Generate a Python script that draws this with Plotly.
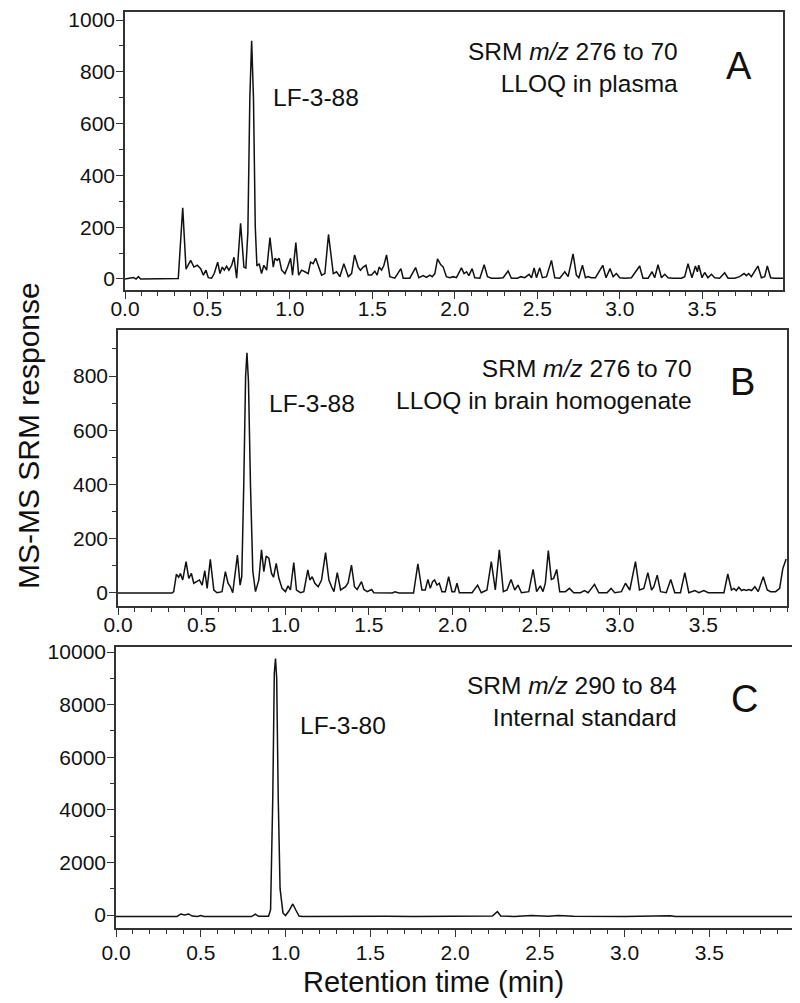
import plotly.graph_objects as go

# ---------------- data ----------------
# Panel A: SRM m/z 276 -> 70, LLOQ in plasma
a_time = [0.000, 0.050, 0.067, 0.081, 0.095, 0.323, 0.350, 0.370, 0.398, 0.418, 0.438, 0.459,
          0.475, 0.491, 0.505, 0.525, 0.541, 0.562, 0.576, 0.590, 0.602, 0.616, 0.630, 0.647,
          0.661, 0.677, 0.701, 0.721, 0.733, 0.745, 0.757, 0.768, 0.779, 0.790, 0.800, 0.814,
          0.828, 0.842, 0.859, 0.879, 0.899, 0.909, 0.923, 0.935, 0.950, 0.970, 0.986, 1.004,
          1.016, 1.036, 1.053, 1.071, 1.091, 1.111, 1.125, 1.141, 1.156, 1.176, 1.192, 1.212,
          1.234, 1.263, 1.283, 1.303, 1.327, 1.354, 1.374, 1.392, 1.414, 1.428, 1.444, 1.461,
          1.475, 1.495, 1.515, 1.529, 1.541, 1.556, 1.570, 1.586, 1.606, 1.636, 1.673, 1.687,
          1.727, 1.762, 1.782, 1.808, 1.828, 1.848, 1.863, 1.879, 1.895, 1.915, 1.929, 1.949,
          1.970, 1.990, 2.010, 2.040, 2.056, 2.071, 2.085, 2.105, 2.121, 2.152, 2.178, 2.198,
          2.222, 2.263, 2.293, 2.323, 2.343, 2.380, 2.400, 2.424, 2.450, 2.465, 2.481, 2.495,
          2.515, 2.531, 2.556, 2.586, 2.606, 2.636, 2.667, 2.687, 2.717, 2.737, 2.752, 2.774,
          2.792, 2.808, 2.828, 2.853, 2.897, 2.917, 2.941, 2.960, 2.980, 3.000, 3.030, 3.071,
          3.121, 3.141, 3.172, 3.196, 3.212, 3.232, 3.253, 3.273, 3.293, 3.323, 3.374, 3.394,
          3.414, 3.438, 3.459, 3.471, 3.479, 3.499, 3.515, 3.535, 3.556, 3.576, 3.606, 3.636,
          3.657, 3.697, 3.727, 3.754, 3.768, 3.782, 3.798, 3.838, 3.859, 3.879, 3.895, 3.915,
          3.939, 3.990]
a_resp = [0, 6, 0, 9, 0, 2, 275, 38, 72, 46, 53, 40,
          15, 34, 5, 3, 21, 65, 21, 46, 34, 49, 34, 53,
          84, 3, 215, 46, 42, 180, 700, 920, 700, 200, 50, 59,
          21, 53, 34, 160, 46, 80, 72, 80, 34, 21, 46, 80,
          15, 141, 15, 34, 28, 21, 65, 59, 80, 40, 15, 21,
          172, 21, 28, 9, 59, 9, 21, 93, 46, 34, 46, 53,
          15, 15, 30, 15, 46, 34, 53, 93, 9, 3, 40, 3,
          3, 44, 5, 13, 6, 15, 9, 21, 78, 55, 47, 9,
          5, 9, 5, 43, 21, 28, 13, 40, 5, 3, 55, 9,
          3, 3, 5, 31, 3, 3, 9, 5, 18, 5, 43, 5,
          43, 5, 9, 72, 5, 3, 28, 9, 97, 15, 5, 53,
          5, 9, 5, 5, 53, 5, 40, 9, 21, 5, 3, 5,
          50, 3, 3, 28, 5, 55, 5, 18, 5, 3, 3, 9,
          59, 5, 50, 28, 53, 5, 25, 5, 18, 5, 3, 24,
          3, 3, 9, 21, 13, 21, 9, 50, 5, 9, 50, 5,
          3, 3]

# Panel B: SRM m/z 276 -> 70, LLOQ in brain homogenate
b_time = [0.000, 0.323, 0.333, 0.349, 0.363, 0.373, 0.387, 0.407, 0.423, 0.439, 0.453, 0.473,
          0.487, 0.503, 0.519, 0.533, 0.552, 0.573, 0.592, 0.622, 0.642, 0.658, 0.672, 0.686,
          0.714, 0.730, 0.740, 0.752, 0.763, 0.771, 0.780, 0.792, 0.806, 0.822, 0.842, 0.858,
          0.872, 0.886, 0.902, 0.918, 0.930, 0.946, 0.962, 0.981, 1.001, 1.017, 1.031, 1.051,
          1.067, 1.091, 1.111, 1.135, 1.147, 1.161, 1.177, 1.197, 1.217, 1.241, 1.261, 1.277,
          1.291, 1.311, 1.331, 1.361, 1.376, 1.396, 1.414, 1.430, 1.440, 1.456, 1.470, 1.490,
          1.516, 1.530, 1.640, 1.656, 1.680, 1.767, 1.793, 1.817, 1.837, 1.853, 1.867, 1.881,
          1.893, 1.907, 1.921, 1.937, 1.957, 1.977, 1.997, 2.013, 2.027, 2.041, 2.117, 2.150,
          2.172, 2.206, 2.232, 2.256, 2.280, 2.304, 2.326, 2.350, 2.372, 2.392, 2.412, 2.456,
          2.482, 2.503, 2.525, 2.541, 2.555, 2.573, 2.591, 2.605, 2.623, 2.641, 2.675, 2.699,
          2.725, 2.765, 2.789, 2.811, 2.849, 2.875, 2.924, 2.948, 2.970, 3.010, 3.034, 3.060,
          3.094, 3.118, 3.144, 3.168, 3.190, 3.204, 3.224, 3.244, 3.278, 3.305, 3.329, 3.363,
          3.389, 3.413, 3.449, 3.473, 3.503, 3.529, 3.623, 3.646, 3.668, 3.682, 3.697, 3.712,
          3.728, 3.742, 3.756, 3.772, 3.788, 3.808, 3.828, 3.858, 3.882, 3.902, 3.932, 3.956,
          3.975, 3.995]
b_resp = [0, 0, 5, 69, 58, 72, 48, 116, 54, 72, 36, 45,
          48, 29, 82, 17, 124, 11, 1, 5, 79, 36, 23, 1,
          140, 29, 60, 400, 800, 886, 780, 400, 80, 5, 48, 159,
          79, 136, 128, 72, 58, 109, 54, 17, 5, 26, 11, 112,
          11, 1, 5, 85, 48, 60, 36, 23, 48, 149, 48, 23,
          5, 75, 11, 23, 38, 103, 23, 13, 26, 42, 13, 5,
          13, 1, 0, 4, 0, 0, 107, 11, 11, 50, 17, 42,
          48, 29, 36, 5, 5, 60, 5, 5, 36, 1, 1, 29,
          1, 11, 116, 11, 159, 5, 11, 50, 11, 29, 1, 5,
          87, 5, 26, 5, 36, 156, 50, 54, 87, 5, 5, 17,
          1, 1, 9, 1, 32, 1, 1, 17, 1, 5, 36, 11,
          116, 11, 17, 75, 11, 23, 66, 5, 1, 50, 1, 1,
          75, 1, 9, 1, 9, 1, 1, 70, 11, 17, 9, 21,
          9, 13, 9, 13, 9, 23, 5, 60, 11, 5, 5, 17,
          90, 125]

# Panel C: SRM m/z 290 -> 84, internal standard
c_time = [0.00, 0.05, 0.10, 0.12, 0.30, 0.36, 0.383, 0.405, 0.428, 0.45, 0.48, 0.50,
          0.52, 0.60, 0.70, 0.78, 0.80, 0.822, 0.84, 0.90, 0.912, 0.925, 0.934, 0.941,
          0.948, 0.957, 0.968, 0.985, 1.00, 1.02, 1.043, 1.06, 1.08, 1.10, 1.30, 1.40,
          1.55, 1.60, 1.75, 2.00, 2.15, 2.22, 2.25, 2.27, 2.35, 2.45, 2.55, 2.61,
          2.70, 3.00, 3.27, 3.30, 3.60, 4.00]
c_resp = [-60, -55, -50, -60, -60, -55, 40, 0, 40, -40, -60, -20,
          -60, -55, -60, -40, -60, 30, -50, -50, 200, 4500, 9200, 9750,
          9000, 4500, 1000, 80, -20, 150, 420, 200, -40, -60, -50, -60,
          -30, -50, -60, -50, -50, -40, 130, -40, -55, -20, -50, -20,
          -50, -60, -30, -60, -60, -60]

x_ticks = [0.0, 0.5, 1.0, 1.5, 2.0, 2.5, 3.0, 3.5]

# ---------------- figure ----------------
# The page body keeps its default 8 px margin, so the figure is drawn 8 px
# smaller and all page positions below are converted with that offset.
OFF = 8
W, H = 800 - OFF, 1003 - OFF
FONT = "Liberation Sans, Arial, Helvetica, sans-serif"
AX = "#333333"
TXT = "#111111"


def px_x(p):
    return (p - OFF) / W


def px_y(p):
    return 1 - (p - OFF) / H


panels = [
    # (times, responses, box x0,x1,y0,y1 in page px, x range, y range, y dtick, x label standoff)
    (a_time, a_resp, (125, 783, 12, 290), [0, 3.99], [-42.5, 1031], 200, -8),
    (b_time, b_resp, (118, 787, 330, 606), [0, 4.0], [-48, 970], 200, -8),
    (c_time, c_resp, (116, 794, 647, 928), [0, 4.0], [-494, 10190], 2000, -2),
]

fig = go.Figure()
layout = dict(
    width=W, height=H, margin=dict(l=0, r=0, t=0, b=0, autoexpand=False),
    paper_bgcolor="white", plot_bgcolor="white", showlegend=False,
    font=dict(family=FONT, color=TXT),
)

for i, (tx, ry, box, xr, yr, ydt, xso) in enumerate(panels):
    n = "" if i == 0 else str(i + 1)
    fig.add_trace(go.Scatter(x=tx, y=ry, mode="lines",
                             line=dict(color="#111111", width=1.5),
                             xaxis="x" + n, yaxis="y" + n, hoverinfo="skip"))
    x0, x1, y0, y1 = box
    layout["xaxis" + n] = dict(
        domain=[px_x(x0), px_x(x1)], range=xr, anchor="y" + n, automargin=False,
        tickvals=x_ticks, tickformat=".1f", ticks="outside", ticklen=7, tickwidth=1.3,
        tickcolor=AX, showline=True, linecolor=AX, linewidth=1.6, mirror=True,
        showgrid=False, zeroline=False, tickfont=dict(size=21, family=FONT, color=TXT),
        ticklabelstandoff=xso, ticklabeloverflow="allow",
        minor=dict(dtick=0.1, tick0=0, ticks="outside", ticklen=4, tickcolor=AX, tickwidth=1.1),
    )
    layout["yaxis" + n] = dict(
        domain=[px_y(y1), px_y(y0)], range=yr, anchor="x" + n, automargin=False,
        dtick=ydt, tick0=0, tickformat="d", ticks="outside", ticklen=7, tickwidth=1.3,
        tickcolor=AX, showline=True, linecolor=AX, linewidth=1.6, mirror=True,
        showgrid=False, zeroline=False, tickfont=dict(size=21, family=FONT, color=TXT),
        ticklabelstandoff=-3, ticklabeloverflow="allow",
        minor=dict(dtick=ydt / 2, tick0=0, ticks="outside", ticklen=4, tickcolor=AX, tickwidth=1.1),
    )

fig.update_layout(**layout)


# ---------------- text ----------------
def note(text, x, y, size, angle=0, xanchor="center", align="center"):
    fig.add_annotation(text=text, x=px_x(x), y=px_y(y), xref="paper", yref="paper",
                       showarrow=False, xanchor=xanchor, yanchor="middle", align=align,
                       textangle=angle, font=dict(size=size, family=FONT, color=TXT))


NS = 24.5
# Panel A
note("SRM <i>m/z</i> 276 to 70<br>LLOQ in plasma", 680, 67, NS, xanchor="right", align="right")
note("A", 739, 66, 38)
note("LF-3-88", 316, 98, NS)
# Panel B
note("SRM <i>m/z</i> 276 to 70<br>LLOQ in brain homogenate", 694, 384, NS, xanchor="right", align="right")
note("B", 742, 382, 38)
note("LF-3-88", 312, 403, NS)
# Panel C
note("SRM <i>m/z</i> 290 to 84<br>Internal standard", 679, 701, NS, xanchor="right", align="right")
note("C", 744, 699, 38)
note("LF-3-80", 343, 725, NS)
# Axis titles
note("MS-MS SRM response", 28, 436, 30, angle=-90)
note("Retention time (min)", 433, 982, 29)

fig.write_html("out.html")
